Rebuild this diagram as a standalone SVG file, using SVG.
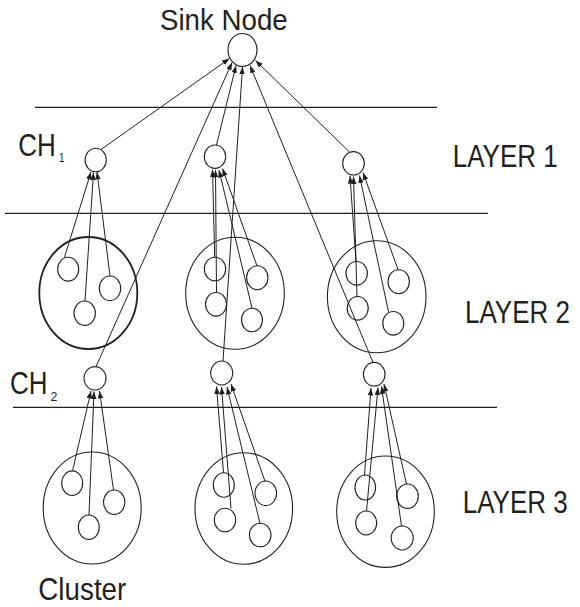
<svg xmlns="http://www.w3.org/2000/svg" width="580" height="607" viewBox="0 0 580 607">
  <style>
    .n { fill: #ffffff; stroke: #231f20; stroke-width: 1.1; }
    .big { fill: none; stroke: #231f20; stroke-width: 1.1; }
    .bold { stroke-width: 1.8; }
    .sep { stroke: #231f20; stroke-width: 1.3; }
    .e { fill: none; stroke: #231f20; stroke-width: 1; marker-end: url(#ah); }
    .t { font-family: "Liberation Sans", Arial, Helvetica, sans-serif; fill: #231f20; }
  </style>
  <defs>
    <marker id="ah" markerUnits="userSpaceOnUse" markerWidth="8" markerHeight="6" refX="7.5" refY="2.75" orient="auto">
      <path d="M0,0 L7.5,2.75 L0,5.5 z" fill="#231f20"/>
    </marker>
  </defs>

  <!-- layer separators -->
  <g id="separators">
    <line class="sep" x1="35" y1="107.3" x2="437" y2="107.3"/>
    <line class="sep" x1="5" y1="213.3" x2="488" y2="213.3"/>
    <line class="sep" x1="13" y1="407.3" x2="497" y2="407.3"/>
  </g>

  <!-- cluster outlines -->
  <g id="cluster-l2-left"><ellipse class="big bold" cx="88.3" cy="293" rx="49" ry="56"/></g>
  <g id="cluster-l2-mid"><ellipse class="big" cx="235" cy="293.3" rx="49.3" ry="56"/></g>
  <g id="cluster-l2-right"><ellipse class="big" cx="376.7" cy="296.8" rx="49.3" ry="56"/></g>
  <g id="cluster-l3-left"><ellipse class="big" cx="92.2" cy="508" rx="49" ry="56"/></g>
  <g id="cluster-l3-mid"><ellipse class="big" cx="243.8" cy="508.5" rx="48.8" ry="55.8"/></g>
  <g id="cluster-l3-right"><ellipse class="big" cx="385.5" cy="511.7" rx="48.8" ry="55.7"/></g>

  <!-- connectors -->
  <g id="connectors">
    <!-- cluster heads to sink -->
    <line class="e" x1="101" y1="149.5" x2="229.5" y2="58.5"/>
    <line class="e" x1="96" y1="366.7" x2="232" y2="62.5"/>
    <line class="e" x1="216.5" y1="145" x2="236" y2="65.5"/>
    <line class="e" x1="223" y1="361.3" x2="242.5" y2="66.8"/>
    <line class="e" x1="373" y1="362.5" x2="250" y2="65.5"/>
    <line class="e" x1="350" y1="152.5" x2="255.5" y2="60.5"/>

    <!-- layer 2 members to layer 1 heads -->
    <line class="e" x1="64.5" y1="257.3" x2="91" y2="172"/>
    <line class="e" x1="85" y1="301" x2="93.5" y2="172.5"/>
    <line class="e" x1="110" y1="276" x2="97" y2="172"/>

    <line class="e" x1="214.7" y1="257" x2="212.5" y2="169.5"/>
    <line class="e" x1="216.5" y1="292.5" x2="215.5" y2="170"/>
    <line class="e" x1="252" y1="308" x2="219" y2="170"/>
    <line class="e" x1="257" y1="266" x2="222.5" y2="168.5"/>

    <line class="e" x1="356" y1="261.5" x2="350" y2="176"/>
    <line class="e" x1="357" y1="296.5" x2="353.5" y2="176.5"/>
    <line class="e" x1="388.5" y1="311.7" x2="359.5" y2="175.5"/>
    <line class="e" x1="398" y1="269.5" x2="363" y2="172.5"/>

    <!-- layer 3 members to layer 2 heads -->
    <line class="e" x1="72.5" y1="471" x2="91" y2="391"/>
    <line class="e" x1="89" y1="515" x2="94" y2="391.5"/>
    <line class="e" x1="113.5" y1="490" x2="99.5" y2="391"/>

    <line class="e" x1="223.5" y1="472.7" x2="216.5" y2="386.5"/>
    <line class="e" x1="231" y1="508.5" x2="221.5" y2="387"/>
    <line class="e" x1="260" y1="523.5" x2="227" y2="387"/>
    <line class="e" x1="265" y1="481.3" x2="231" y2="384"/>

    <line class="e" x1="364.5" y1="475.3" x2="371" y2="388"/>
    <line class="e" x1="366.5" y1="511" x2="378" y2="387.5"/>
    <line class="e" x1="401.5" y1="526" x2="381.5" y2="386.5"/>
    <line class="e" x1="406.5" y1="484.2" x2="384" y2="384"/>
  </g>

  <!-- sink -->
  <g id="sink"><ellipse class="n" cx="242.5" cy="50" rx="14.5" ry="16.5"/></g>

  <!-- layer 1 cluster heads -->
  <g id="ch1-left"><ellipse class="n" cx="95.7" cy="160" rx="10.6" ry="11.7"/></g>
  <g id="ch1-mid"><ellipse class="n" cx="215" cy="156.7" rx="10.7" ry="11.7"/></g>
  <g id="ch1-right"><ellipse class="n" cx="353.5" cy="163.3" rx="10.8" ry="11.7"/></g>

  <!-- layer 2 cluster heads -->
  <g id="ch2-left"><ellipse class="n" cx="95" cy="378.3" rx="11" ry="11.7"/></g>
  <g id="ch2-mid"><ellipse class="n" cx="221.7" cy="373" rx="11" ry="12"/></g>
  <g id="ch2-right"><ellipse class="n" cx="374.2" cy="374.2" rx="10.8" ry="11.8"/></g>

  <!-- layer 2 members -->
  <g id="m2-left">
    <ellipse class="big" cx="68.2" cy="269.2" rx="10.5" ry="11.9"/>
    <ellipse class="big" cx="110" cy="288.3" rx="10.7" ry="12.3"/>
    <ellipse class="big" cx="84.7" cy="313.2" rx="10.7" ry="12.2"/>
  </g>
  <g id="m2-mid">
    <ellipse class="big" cx="215" cy="269" rx="10.7" ry="11.8"/>
    <ellipse class="big" cx="216" cy="304.3" rx="10.5" ry="11.8"/>
    <ellipse class="big" cx="257.3" cy="277.7" rx="10.7" ry="12"/>
    <ellipse class="big" cx="252" cy="320" rx="10.5" ry="11.8"/>
  </g>
  <g id="m2-right">
    <ellipse class="big" cx="356.7" cy="273.3" rx="10.7" ry="11.8"/>
    <ellipse class="big" cx="357.7" cy="308.3" rx="10.5" ry="11.8"/>
    <ellipse class="big" cx="398.7" cy="281.7" rx="10.7" ry="12"/>
    <ellipse class="big" cx="393.3" cy="323.3" rx="10.5" ry="11.8"/>
  </g>

  <!-- layer 3 members -->
  <g id="m3-left">
    <ellipse class="big" cx="72.2" cy="483.2" rx="10.5" ry="12.3"/>
    <ellipse class="big" cx="114.2" cy="502.2" rx="10.7" ry="12.2"/>
    <ellipse class="big" cx="88.8" cy="527.2" rx="10.5" ry="12.2"/>
  </g>
  <g id="m3-mid">
    <ellipse class="big" cx="223.8" cy="485" rx="10.5" ry="12.3"/>
    <ellipse class="big" cx="225" cy="520" rx="10.7" ry="11.7"/>
    <ellipse class="big" cx="265.8" cy="493.3" rx="10.8" ry="12.3"/>
    <ellipse class="big" cx="260.2" cy="535" rx="10.8" ry="11.7"/>
  </g>
  <g id="m3-right">
    <ellipse class="big" cx="365.3" cy="487.5" rx="10.3" ry="12.5"/>
    <ellipse class="big" cx="366.2" cy="523" rx="10.5" ry="12"/>
    <ellipse class="big" cx="407.5" cy="496.2" rx="10.8" ry="12.2"/>
    <ellipse class="big" cx="402.2" cy="538" rx="11" ry="12"/>
  </g>

  <!-- labels: narrow sans set slightly taller than wide -->
  <g id="labels">
    <text class="t" font-size="27.7" transform="translate(160,29.5) scale(1,1.08)">Sink Node</text>
    <text class="t" font-size="26" transform="translate(18.3,156) scale(1,1.2)">CH</text>
    <text class="t" font-size="13" transform="translate(59,161.7) scale(0.75,1)">1</text>
    <text class="t" font-size="26" transform="translate(10,394) scale(1,1.2)">CH</text>
    <text class="t" font-size="13" transform="translate(50.5,400.7) scale(0.95,1)">2</text>
    <text class="t" font-size="26" transform="translate(452.7,166.7) scale(1,1.2)">LAYER 1</text>
    <text class="t" font-size="26" transform="translate(465,323.3) scale(1,1.2)">LAYER 2</text>
    <text class="t" font-size="26" transform="translate(462.7,513.3) scale(1,1.2)">LAYER 3</text>
    <text class="t" font-size="27.8" transform="translate(38.3,600) scale(1,1.12)">Cluster</text>
  </g>
</svg>
